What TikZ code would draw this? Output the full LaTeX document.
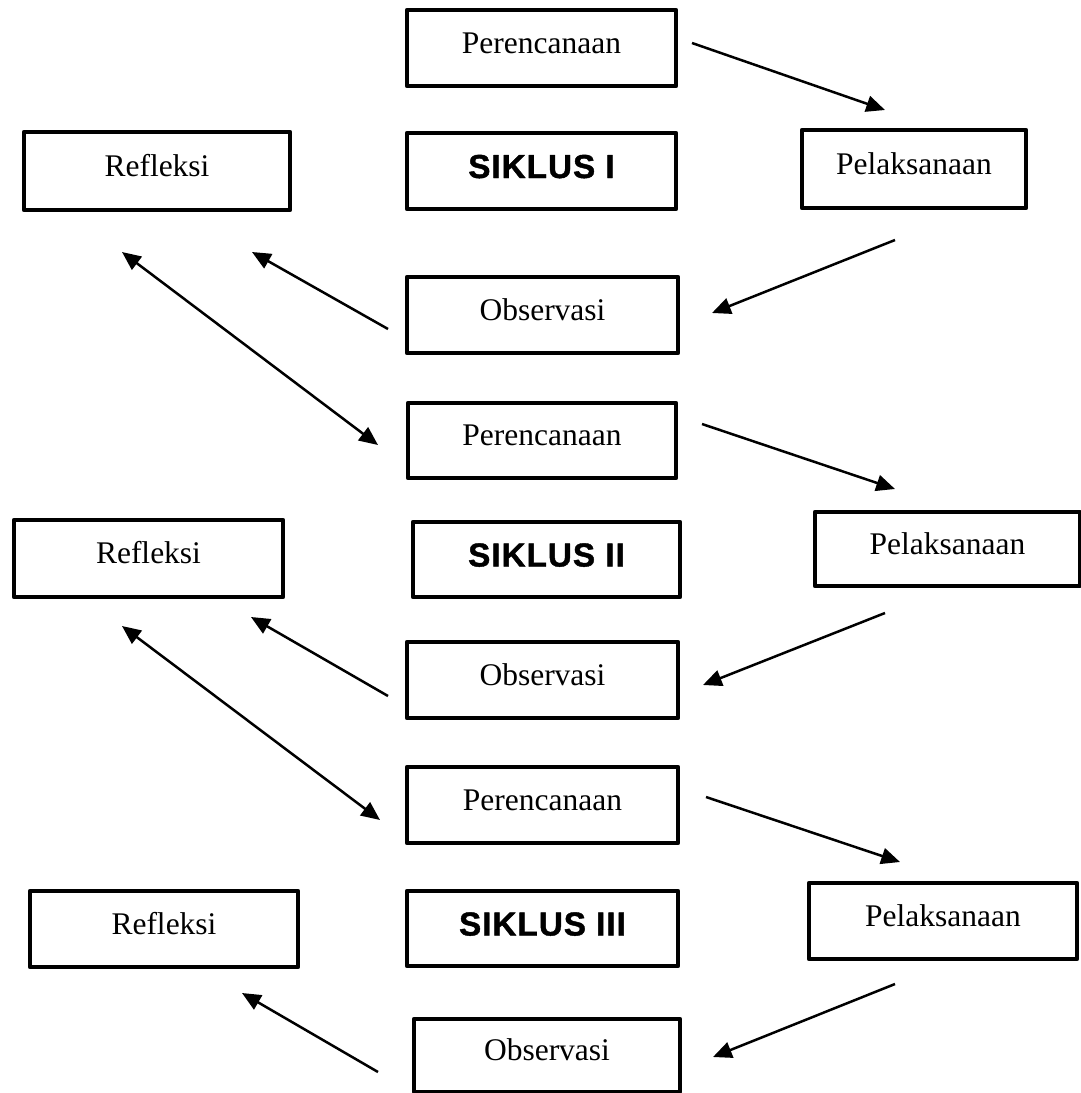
\documentclass[tikz,border=0pt]{standalone}
\usepackage{fontspec}
\setmainfont{Liberation Serif}
\newfontfamily\siklusfont{Liberation Sans}[BoldFeatures={FakeBold=1.3, LetterSpace=3}]
\usepackage{tikz}
\usetikzlibrary{arrows.meta}

\tikzset{
  box/.style={rectangle, draw=black, line width=1.9pt, line join=round, inner sep=0pt,
    minimum width=269pt*0.4, minimum height=76pt*0.4, text height=9pt, text depth=5pt,
    font=\fontsize{12.6}{15}\selectfont},
  siklusbox/.style={box, text height=10pt, text depth=4.4pt,
    font=\siklusfont\bfseries\fontsize{13.3}{16}\selectfont},
  flow/.style={line width=1pt, -{Triangle[length=7.5pt,width=6.5pt]}},
  bothflow/.style={line width=1pt, {Triangle[length=7.5pt,width=6.5pt]}-{Triangle[length=7.5pt,width=6.5pt]}}
}

\begin{document}
\begin{tikzpicture}[x=0.4pt, y=-0.4pt]
%

\useasboundingbox (0,0) rectangle (1080,1093);

%%% nodes and boxes

%%% SIKLUS I
\node [box] (per1) at (541.5,48) {Perencanaan};
\node [siklusbox] (sik1) at (541.5,171) {SIKLUS I};
\node [box, minimum width=266*0.4pt, minimum height=78*0.4pt] (ref1) at (157,171) {Refleksi};
\node [box, minimum width=224*0.4pt, minimum height=78*0.4pt] (pel1) at (914,169) {Pelaksanaan};
\node [box, minimum width=271*0.4pt] (obs1) at (542.5,315) {Observasi};

%%% SIKLUS II
\node [box, minimum width=268*0.4pt, minimum height=75*0.4pt] (per2) at (542,440.5) {Perencanaan};
\node [siklusbox, minimum width=267*0.4pt, minimum height=75*0.4pt] (sik2) at (546.5,559.5) {SIKLUS II};
\node [box, minimum height=77*0.4pt] (ref2) at (148.5,558.5) {Refleksi};
\node [box, minimum width=265*0.4pt, minimum height=74*0.4pt] (pel2) at (947.5,549) {Pelaksanaan};
\node [box, minimum width=271*0.4pt] (obs2) at (542.5,680) {Observasi};

%%% SIKLUS III
\node [box, minimum width=271*0.4pt] (per3) at (542.5,805) {Perencanaan};
\node [siklusbox, minimum width=271*0.4pt, minimum height=75*0.4pt] (sik3) at (542.5,928.5) {SIKLUS III};
\node [box, minimum width=268*0.4pt] (ref3) at (164,929) {Refleksi};
\node [box, minimum width=268*0.4pt] (pel3) at (943,921) {Pelaksanaan};
\node [box, minimum width=266*0.4pt, minimum height=73*0.4pt] (obs3) at (547,1055.5) {Observasi};

%%% arrow ends
\coordinate (a1s) at (692,43);   \coordinate (a1e) at (885,110);
\coordinate (b1s) at (895,240);  \coordinate (b1e) at (712,313);
\coordinate (c1s) at (388,329);  \coordinate (c1e) at (252,252);
\coordinate (d1s) at (122,252);  \coordinate (d1e) at (378,445);

\coordinate (a2s) at (702,424);  \coordinate (a2e) at (895,489);
\coordinate (b2s) at (885,613);  \coordinate (b2e) at (703,685);
\coordinate (c2s) at (388,696);  \coordinate (c2e) at (251,617);
\coordinate (d2s) at (122,626);  \coordinate (d2e) at (380,820);

\coordinate (a3s) at (706,797);  \coordinate (a3e) at (900,862);
\coordinate (b3s) at (895,984);  \coordinate (b3e) at (713,1057);
\coordinate (c3s) at (378,1072); \coordinate (c3e) at (242,993);

%%% connections, arrows

\draw [flow] (a1s) -- (a1e);
\draw [flow] (b1s) -- (b1e);
\draw [flow] (c1s) -- (c1e);
\draw [bothflow] (d1s) -- (d1e);

\draw [flow] (a2s) -- (a2e);
\draw [flow] (b2s) -- (b2e);
\draw [flow] (c2s) -- (c2e);
\draw [bothflow] (d2s) -- (d2e);

\draw [flow] (a3s) -- (a3e);
\draw [flow] (b3s) -- (b3e);
\draw [flow] (c3s) -- (c3e);

\end{tikzpicture}
\end{document}
